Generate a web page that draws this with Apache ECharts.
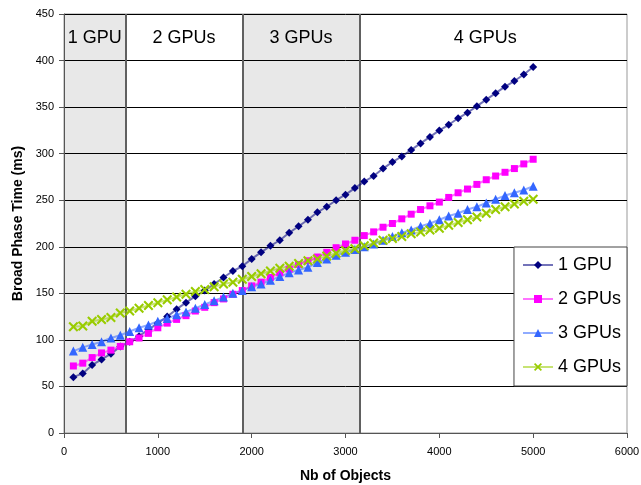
<!DOCTYPE html>
<html>
<head>
<meta charset="utf-8">
<script src="https://cdn.jsdelivr.net/npm/echarts@6/dist/echarts.min.js"></script>
<style>
html,body{margin:0;padding:0;background:#fff;}
#chart{width:641px;height:485px;}
</style>
</head>
<body>
<div id="chart"></div>
<script>
const objects = [100,200,300,400,500,600,700,800,900,1000,1100,1200,1300,1400,1500,1600,1700,1800,1900,2000,2100,2200,2300,2400,2500,2600,2700,2800,2900,3000,3100,3200,3300,3400,3500,3600,3700,3800,3900,4000,4100,4200,4300,4400,4500,4600,4700,4800,4900,5000];
const gpu1 = [60,64,73,79,85,93,98,104,111,118,125,133,140,147,153,160,167,174,179,187,194,201,207,215,222,229,237,243,250,256,263,270,276,284,291,297,304,311,318,325,331,338,344,351,358,365,372,378,385,393];
const gpu2 = [72,75,81,86,89,93,98,102,107,113,118,122,126,131,135,140,144,149,153,158,162,167,172,176,181,185,189,194,199,203,207,212,216,221,225,230,235,240,244,248,253,258,262,267,272,276,280,284,289,294];
const gpu3 = [88,92,95,98,102,105,109,113,116,120,123,127,130,134,138,142,146,150,153,157,160,164,168,172,175,178,183,187,191,194,197,200,203,207,211,215,218,222,225,229,233,236,240,243,247,251,255,258,261,265];
const gpu4 = [114,115,120,122,124,129,131,134,137,140,143,146,149,152,154,157,160,162,165,168,171,174,177,179,182,185,187,190,193,196,198,201,204,207,209,211,214,216,218,220,223,226,229,232,236,240,243,246,249,251];
const seriesNames = ['1 GPU','2 GPUs','3 GPUs','4 GPUs'];
const regionBounds = [0, 657, 1903, 3149, 6000];
const regionNames = ['1 GPU','2 GPUs','3 GPUs','4 GPUs'];
const regionShaded = [true, false, true, false];
const regionLabelOffsetX = [0, 0, 0, -8];
const xTicks = {min: 0, max: 6000, interval: 1000};
const yTicks = {min: 0, max: 450, interval: 50};
const labelBand = [400, 450];

const FONT = "'Liberation Sans', Arial, sans-serif";
const colors = ['#000080', '#FF00FF', '#3366FF', '#99CC00'];
const symbols = ['diamond', 'rect', 'triangle',
  'path://M0,1.5L1.5,0L5,3.5L8.5,0L10,1.5L6.5,5L10,8.5L8.5,10L5,6.5L1.5,10L0,8.5L3.5,5Z'];
const symbolSizes = [8, 7, 9, 10];
const allData = [gpu1, gpu2, gpu3, gpu4];

const areaData = [];
for (let i = 0; i < regionNames.length; i++) {
  if (regionShaded[i]) {
    areaData.push([{xAxis: regionBounds[i], yAxis: yTicks.min, itemStyle: {color: '#E8E8E8'}},
                   {xAxis: regionBounds[i + 1], yAxis: yTicks.max}]);
  }
  areaData.push([{xAxis: regionBounds[i], yAxis: labelBand[0], itemStyle: {color: 'rgba(0,0,0,0)'},
                  label: {show: true, position: 'inside', offset: [regionLabelOffsetX[i], 1],
                          formatter: regionNames[i], fontSize: 18, color: '#000', fontFamily: FONT}},
                 {xAxis: regionBounds[i + 1], yAxis: labelBand[1]}]);
}
const lineData = regionBounds.slice(1, -1).map(b => ({xAxis: b}));

const series = [{
  type: 'line', name: 'regions', data: [], silent: true,
  markArea: {silent: true, z: -1, data: areaData},
  markLine: {silent: true, z: 1, symbol: 'none', label: {show: false},
    lineStyle: {color: '#606060', width: 2, type: 'solid'}, data: lineData}
}];
for (let s = 0; s < 4; s++) {
  series.push({
    type: 'line', name: seriesNames[s],
    data: objects.map((x, i) => [x, allData[s][i]]),
    symbol: symbols[s], symbolSize: symbolSizes[s], showSymbol: true,
    itemStyle: {color: colors[s]},
    lineStyle: {color: colors[s], width: 2, opacity: 0.55},
    z: 3
  });
}

const chart = echarts.init(document.getElementById('chart'), null, {renderer: 'canvas'});
chart.setOption({
  animation: false,
  backgroundColor: '#fff',
  textStyle: {fontFamily: FONT},
  grid: {left: 64, right: 14, top: 14, bottom: 52, show: true, borderColor: '#999', borderWidth: 1,
         backgroundColor: 'rgba(0,0,0,0)', containLabel: false, outerBoundsMode: 'none'},
  legend: {
    data: seriesNames, orient: 'vertical', right: 14, top: 247,
    itemWidth: 30, itemHeight: 10, itemGap: 16, padding: [9, 6, 10, 8],
    backgroundColor: '#fff', borderColor: '#444', borderWidth: 1, borderRadius: 0,
    textStyle: {fontSize: 18, color: '#000', fontFamily: FONT}
  },
  xAxis: {
    type: 'value', min: xTicks.min, max: xTicks.max, interval: xTicks.interval,
    name: 'Nb of Objects', nameLocation: 'middle', nameGap: 36,
    nameTextStyle: {fontSize: 14, fontWeight: 'bold', color: '#000', fontFamily: FONT},
    axisLine: {show: true, onZero: false, lineStyle: {color: '#555', width: 1}},
    axisTick: {show: true, length: 5, lineStyle: {color: '#555'}},
    axisLabel: {fontSize: 11, color: '#000', margin: 13, fontFamily: FONT, formatter: v => String(v)},
    splitLine: {show: false}
  },
  yAxis: {
    type: 'value', min: yTicks.min, max: yTicks.max, interval: yTicks.interval,
    name: 'Broad Phase Time (ms)', nameLocation: 'middle', nameGap: 39,
    nameTextStyle: {fontSize: 14, fontWeight: 'bold', color: '#000', fontFamily: FONT},
    axisLine: {show: true, lineStyle: {color: '#555', width: 1}},
    axisTick: {show: true, length: 5, lineStyle: {color: '#555'}},
    axisLabel: {fontSize: 11, color: '#000', margin: 10, fontFamily: FONT},
    splitLine: {show: true, lineStyle: {color: '#000', width: 1}}
  },
  series: series
});
</script>
</body>
</html>
